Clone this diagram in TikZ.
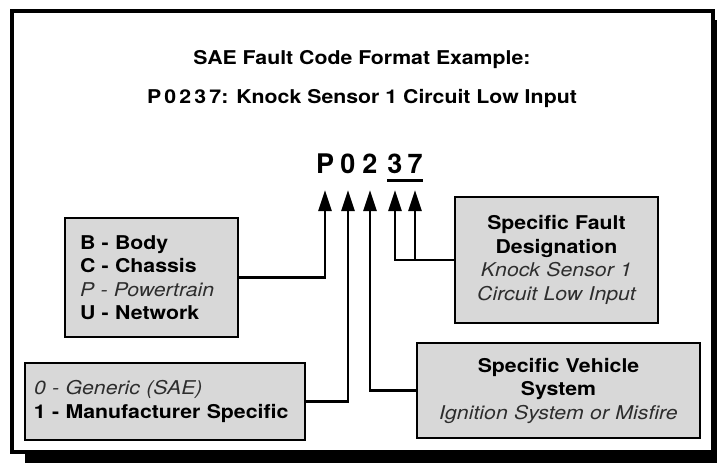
\documentclass[tikz,border=0pt]{standalone}
\usepackage{fontspec}
\setmainfont{TeX Gyre Heros}[FakeStretch=1.12]
\newfontfamily\codefont{TeX Gyre Heros}
\usepackage{tikz}
\usetikzlibrary{arrows.meta,positioning}
\definecolor{boxfill}{RGB}{216,216,216}
\definecolor{notegray}{RGB}{45,45,45}
\newcommand\notetext[1]{{\color{notegray}\itshape #1}}

\begin{document}
\begin{tikzpicture}[x=1pt, y=-1pt,
    font=\fontsize{19}{23.5}\selectfont,
    box/.style={draw=black, fill=boxfill, line width=2.6pt, inner sep=0pt},
    digit/.style={font=\codefont\fontsize{27}{27}\selectfont\bfseries, anchor=base, inner sep=0pt},
    arrow/.style={-{Triangle[length=21pt, width=13pt]}, draw=black, line width=2.6pt}
  ]
    \useasboundingbox (0,0) rectangle (717,463);
    % frame with shadow
    \fill[black] (25,20) rectangle (717,463);
    \draw[line width=4pt, fill=white] (12,11) rectangle (713,452);

    \node[font=\fontsize{19}{23.5}\selectfont\bfseries] (title) at (362,60) {SAE Fault Code Format Example:};
    \node[font=\fontsize{19}{23.5}\selectfont\bfseries] (example) at (362,98) {P\,0\,2\,3\,7: Knock Sensor 1 Circuit Low Input};

    % the code itself
    \node[digit] (cP) at (325,173) {P};
    \node[digit] (c0) at (348,173) {0};
    \node[digit] (c2) at (370,173) {2};
    \node[digit] (c3) at (395,173) {3};
    \node[digit] (c7) at (415,173) {7};
    \draw[line width=3pt] ([yshift=-7pt]c3.base west) -- ([yshift=-7pt]c7.base east);

    % boxes
    \node[box, minimum width=173pt, minimum height=119pt, text width=143pt, align=left] (system) at (151.5,277.5)
      {\textbf{B - Body}\\ \textbf{C - Chassis}\\ \notetext{P - Powertrain}\\ \textbf{U - Network}};
    \node[box, minimum width=280pt, minimum height=77pt, text width=262pt, align=left] (type) at (165,401.5)
      {\notetext{0 - Generic (SAE)}\\ \textbf{1 - Manufacturer Specific}};
    \node[box, minimum width=283pt, minimum height=95pt, text width=270pt, align=center] (vehicle) at (558.5,390.5)
      {\textbf{Specific Vehicle}\\ \textbf{System}\\ \notetext{Ignition System or Misfire}};
    \node[box, minimum width=203pt, minimum height=126pt, text width=195pt, align=center] (fault) at (556.5,260)
      {\textbf{Specific Fault}\\ \textbf{Designation}\\ \notetext{Knock Sensor 1}\\ \notetext{Circuit Low Input}};

    % connectors
    \draw[arrow] (system.east) -| ([yshift=-17pt]cP.base);
    \draw[arrow] (type.east) -| ([yshift=-17pt]c0.base);
    \draw[arrow] (vehicle.west) -| ([yshift=-17pt]c2.base);
    \draw[arrow] (fault.west) -| ([yshift=-17pt]c3.base);
    \draw[arrow] (fault.west) -| ([yshift=-17pt]c7.base);
\end{tikzpicture}
\end{document}
